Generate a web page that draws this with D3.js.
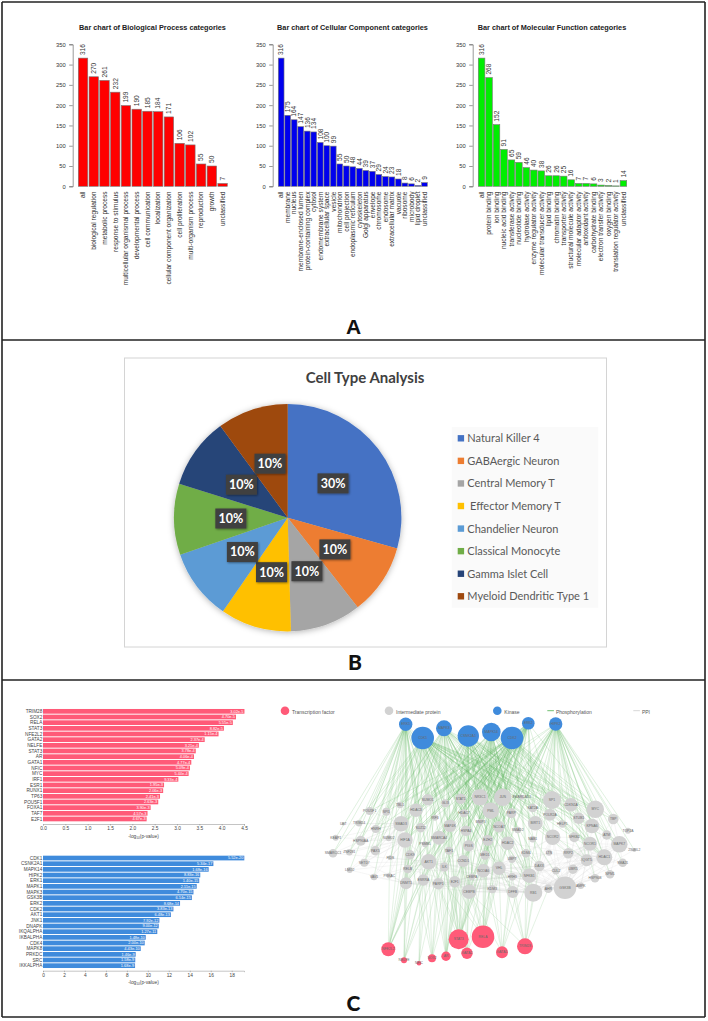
<!DOCTYPE html>
<html>
<head>
<meta charset="utf-8">
<script src="https://cdn.jsdelivr.net/npm/d3@7"></script>
<style>
	html, body { margin: 0; padding: 0; background: #fff; }
	svg { display: block; }
	text { font-family: "Liberation Sans", Arial, sans-serif; }
	.lato { font-family: Lato, sans-serif; }
	.node text { fill: #6a6a6a; font-size: 3.4px; text-anchor: middle; }
</style>
</head>
<body>
<script>
// panel A
var bpCats = ["all","biological regulation","metabolic process","response to stimulus","multicellular organismal process","developmental process","cell communication","localization","cellular component organization","cell proliferation","multi-organism process","reproduction","growth","unclassified"];
var bpVals = [316,270,261,232,199,190,185,184,171,106,102,55,50,7];
var ccCats = ["all","membrane","nucleus","membrane-enclosed lumen","protein-containing complex","cytosol","endomembrane system","extracellular space","vesicle","mitochondrion","cell projection","endoplasmic reticulum","cytoskeleton","Golgi apparatus","envelope","chromosome","endosome","extracellular matrix","vacuole","ribosome","microbody","lipid droplet","unclassified"];
var ccVals = [316,175,164,147,136,134,108,100,99,55,50,48,44,39,37,29,24,23,18,8,6,2,9];
var mfCats = ["all","protein binding","ion binding","nucleic acid binding","transferase activity","nucleotide binding","hydrolase activity","enzyme regulator activity","molecular transducer activity","lipid binding","chromatin binding","transporter activity","structural molecule activity","molecular adaptor activity","antioxidant activity","carbohydrate binding","electron transfer activity","oxygen binding","translation regulator activity","unclassified"];
var mfVals = [316,268,152,91,65,59,46,40,38,26,26,25,16,7,7,6,3,2,1,14];
var countTicks = [0,50,100,150,200,250,300,350];

// panel B
var pieCats = ["Natural Killer 4","GABAergic Neuron","Central Memory T"," Effector Memory T","Chandelier Neuron","Classical Monocyte","Gamma Islet Cell","Myeloid Dendritic Type 1"];
var pieVals = [29.4,10.1,10.1,10.1,10.1,10.1,10.1,10.1];
var pieLabels = ["30%","10%","10%","10%","10%","10%","10%","10%"];
var pieColors = ["#4472c4","#ed7d31","#a5a5a5","#ffc000","#5b9bd5","#70ad47","#264478","#9e480e"];

// panel C, bars
var tfCats = ["TRIM28","SOX2","RELA","STAT3","NFE2L2","GATA2","NELFE","STAT3 ","AR","GATA1","NFIC","MYC","IRF1","ESR1","RUNX1","TP63","POU5F1","FOXA1","TAF7","E2F1"];
var tfVals = [4.51,4.32,4.25,4.05,3.93,3.62,3.49,3.42,3.38,3.32,3.29,3.26,3.03,2.71,2.69,2.62,2.58,2.41,2.34,2.32];
var tfPvals = ["3.02e-5","4.70e-5","5.55e-5","8.82e-5","1.15e-4","2.37e-4","3.21e-4","3.78e-4","4.06e-4","4.77e-4","5.09e-4","5.44e-4","9.33e-4","1.95e-3","2.06e-3","2.41e-3","2.63e-3","3.90e-3","4.57e-3","4.67e-3"];
var tfTicks = [0,0.5,1,1.5,2,2.5,3,3.5,4,4.5];
var kinCats = ["CDK1","CSNK2A1","MAPK14","HIPK2","ERK1","MAPK1","MAPK3","GSK3B","ERK2","CDK2","AKT1","JNK1","DNAPK","IKQALPHA","IKBALPHA","CDK4","MAPK8","PRKDC","SRC","IKKALPHA"];
var kinVals = [19.2,16.25,15.8,15,14.9,14.66,14.35,14.2,13.07,12.44,12.2,11.1,11.04,10.9,9.8,9.7,9.32,8.84,8.8,8.78];
var kinPvals = ["5.52e-20","5.34e-17","1.68e-16","8.83e-16","1.40e-15","2.11e-15","4.70e-15","6.14e-15","8.68e-14","3.83e-13","6.48e-13","7.92e-12","9.00e-12","1.27e-11","1.48e-10","2.00e-10","4.43e-10","1.46e-9","1.58e-9","1.68e-9"];
var kinTicks = [0,2,4,6,8,10,12,14,16,18];

// panel C, network: name, x, y, size
var kinaseNodes = [["ERK1",405.7,724.3,6.7],["CDK1",422.7,738,11.3],["MAPK3",444,728.3,8],["CSNK2A1",468.3,736,10.7],["MAPK14",491.3,732,9.3],["CDK2",512,738,11.3],["ERK2",528.3,723.3,6.3],["HIPK2",555.7,724,6.7]];
var midNodes = [["POU5F1",369.7,811,4],["SPI1",386.3,811.7,4],["TBL1",400,805,3.3],["SUMO1",427.7,799.7,5.7],["GLI3",445.3,803.3,4],["STAT1",460.7,798.7,5.3],["NR3C1",480,797.3,8.3],["HDAC3",416,810.3,6.7],["UBT",343.3,824,1.5],["TRIM24",359,823.3,3.3],["SMAD3",401,823.7,7.7],["IRF3",435,817.7,3],["HDAC7",464,813.3,4],["MAP4K",450,825.7,6.3],["BNIP3",480.7,821.7,3],["HNRH",375.7,829,4],["SUZ12",420.7,827.7,4.7],["HSPA4",466,830.7,5.3],["KEAP1",335.7,837.7,3],["HSP90AA",360.7,840.7,5],["SUMO2",388.7,838.3,3],["HIF1A",405,840,7.7],["SMARCA4",439,837.7,7],["SMARCC1",333,853.3,4.3],["ZNF281",349.3,852.3,3.3],["PAX5",375.3,850.7,4.7],["PSMB5",425,844.3,3],["CDK9",410,854.7,4.7],["TAF1",449,850.7,4],["PIGS",468.7,845.7,5.7],["EZH2",487.7,840.3,5.5],["MED1",485,855.3,4.7],["SETD7",364.3,862.7,4],["FIDS",390.3,857.7,2.5],["AKT1",428.7,861.7,7.7],["CCND1",463.3,861,6],["LMO2",349.7,870,3],["VAV1",374,877,3.3],["RELB",407.7,869,4.3],["ILK",444.3,867,4.7],["NCOA6",483.3,870.7,6.7],["PRKAC",389.3,875.7,2.7],["DNMT1",406,883.3,6],["ESRRA",423.3,880,5.7],["PARP1",438.3,883.7,5.7],["E2F1",454.7,881.7,5.7],["CEBPA",471.7,876.7,3.3],["CEBPB",469,891.7,7.3],
	["JUN",502.7,797.3,8.7],["SMARCAD1",521.7,797.3,2.5],["SP1",552,800,9],["CDKN1A",571,804.7,6.7],["MYC",595.3,809.3,8.7],["TBP",613.3,819,5.3],["TOP2A",628,830.7,3],["PML",490.7,810.7,8.3],["PARP",511.3,813.3,5],["KAT2A",532.7,808,4.3],["POLR2A",550,814.7,6],["STUB1",578.7,818.3,5.7],["KPNA6",592,826,7.3],["BIRT1",535.3,823.3,7.3],["HELP1",562.3,824,3.7],["NCOA7",499,826.7,5.7],["SMAD2",517.7,830,3.3],["ATM",606.7,835,4.7],["MAPK7",619.3,844.3,8.3],["NCOR2",552.7,837.3,7.7],["NAB1",532.7,839.3,3.3],["NFKB2",574.3,837.3,5],["NCOR1",590,843.7,7],["HDAC2",507.7,843.3,6.7],["2308IL2",634.3,850,2],["HDAC1",604.3,857.3,8],["SMA21",622.7,862.7,4.3],["IQGT5",586.7,860.3,6],["RRP2",568.3,853.3,5.3],["LTN",549,852.7,3],["KDM4",526,853.3,4.3],["UBP7",512,859.3,3.7],["VHL",499,868.3,6.7],["DAXX",539.3,866,5.3],["CUL2",556,870.7,3.7],["UBR5",573,869.3,4.7],["NPM1",610,874.3,4.3],["HSP90B",595,878.3,4.3],["HRH3",512.3,876.7,3.7],["NFKB1",529.3,875.7,7.3],["GSK3B",565,887.7,11.3],["AMPK",580.7,885.7,3.3],["AHR",548.3,888.7,4.3],["RB1",533.3,892.7,9],["DFFB",512.7,892,6],["KDM3",492.3,889.3,4]];
var tfNodes = [["NFE2L2",388.3,949.3,7],["NELFE",404,960.3,3],["NFIC",419,963.3,2.3],["SOX2",432,958.3,4],["AR",446,956.3,4.7],["STAT3",458.7,939.3,10],["GATA2",467,953.3,5.7],["RELA",483,936.7,11.3],["GATA1",502,952.3,6],["TRIM28",525,946.3,8]];

// phosphorylation edges, kinase to its targets
var kinaseEdges = {
	ERK1: "POU5F1 TRIM24 SMAD3 HIF1A HDAC3 SUMO1 SMARCC1 HSP90AA PAX5 DNMT1 AKT1 SUZ12 MAP4K RELB GLI3 CDK9 ESRRA HDAC7 SUMO2 HNRH SPI1 KEAP1 SETD7 ZNF281 TBL1 VAV1 LMO2 PRKAC STAT1 NR3C1 IRF3 PSMB5",
	CDK1: "SPI1 TBL1 HDAC3 SMAD3 SUMO1 STAT1 NR3C1 JUN PML MYC SP1 KAT2A BIRT1 NCOR2 HDAC2 NCOA7 EZH2 MAP4K SMARCA4 HIF1A AKT1 TAF1 CEBPB E2F1 PARP1 DNMT1 VHL RB1 MAPK7 NCOR1 STUB1 KPNA6 CDKN1A POLR2A TBP POU5F1 HSP90AA PAX5 HNRH SETD7 ZNF281 FIDS RELB SUZ12 GLI3 HDAC7 BNIP3 PARP SMAD2 IQGT5 HDAC1 NFKB1 DFFB RRP2 MED1 NCOA6 SMARCC1 DAXX",
	MAPK3: "HDAC3 SMAD3 HIF1A STAT1 NR3C1 JUN PML SP1 MYC CEBPB ESRRA E2F1 BIRT1 NCOA6 HDAC2 EZH2 SMAD2 PIGS NFKB1 RB1 CDK9 TBL1 SUMO1 SPI1 POLR2A KAT2A NCOR2 ILK AKT1 TAF1 MAP4K HNRH PAX5 NCOR1 HDAC1 VHL DFFB",
	CSNK2A1: "STAT1 NR3C1 JUN PML SP1 MYC HDAC2 HDAC1 NCOR1 NCOR2 BIRT1 KAT2A PARP HIF1A SMAD3 TAF1 AKT1 CEBPB NFKB1 DAXX SMAD2 HDAC3 PIGS E2F1 VHL TBL1 SUMO1 GLI3 HDAC7 BNIP3 MAP4K HSPA4 EZH2 MED1 NCOA7 UBP7 RB1 GSK3B CEBPA ILK CCND1 STUB1 KPNA6 CDKN1A RELB DNMT1",
	MAPK14: "NR3C1 JUN PML SP1 MYC HDAC3 SMAD3 HIF1A STAT1 SUMO1 GLI3 PIGS EZH2 CEBPB NCOA6 KDM3 NFKB1 MED1 TAF1 MAPK7 SMARCA4 AKT1 KAT2A POLR2A PARP NCOA7 HDAC2 VHL NCOR2 HDAC7 BNIP3 HSPA4 ESRRA DNMT1 CCND1 HDAC1 RB1 SMAD2 HRH3",
	CDK2: "NR3C1 STAT1 SUMO1 HDAC3 SMAD3 HIF1A SMARCA4 AKT1 RELB E2F1 CEBPB JUN PML SP1 MYC NCOA7 BIRT1 RB1 NCOR2 POLR2A CDKN1A STUB1 KPNA6 MAPK7 TBP HDAC2 DNMT1 ESRRA PARP1 CCND1 SUZ12 MAP4K POU5F1 SPI1 TBL1 GLI3 HDAC7 BNIP3 HNRH HSPA4 PIGS EZH2 MED1 NCOA6 VHL NFKB1 HDAC1 NCOR1 IQGT5 DAXX ATM",
	ERK2: "STAT1 JUN NR3C1 PML SP1 MAP4K HDAC7 SMAD3 HIF1A PIGS NCOA7 EZH2 CCND1 AKT1 NCOA6 ILK DNMT1 MED1 VHL SUMO1 GLI3 HDAC3 SUZ12 BNIP3 HSPA4 TAF1 BIRT1 KAT2A MYC HDAC2 RELB NFKB1 CEBPB E2F1",
	HIPK2: "CDKN1A MYC TBP SP1 KPNA6 MAPK7 NCOR1 JUN PML POLR2A BIRT1 HDAC2 HIF1A SMAD3 AKT1 EZH2 NCOR2 HDAC1 IQGT5 ATM STUB1 KAT2A NFKB2 TOP2A CCND1 NCOA6 VHL MED1 DAXX NFKB1 RRP2 NPM1 SMA21 HSP90B HELP1 2308IL2 NCOA7 PARP CEBPA"
};
// PPI edges in the lower part of the network
var ppiEdges = {
	GSK3B: "NCOR1 NCOR2 HDAC1 MAPK7 RB1 NFKB1 DAXX UBR5 CUL2 AHR DFFB VHL NCOA6 HDAC2 IQGT5 RRP2 MYC NPM1 HSP90B AMPK SMA21 KDM4 CEBPB E2F1 TBP ATM KPNA6 LTN NAB1 UBP7 HRH3 MED1 CCND1 PARP1 AKT1 STUB1 NFKB2 2308IL2",
	RB1: "NFKB1 DFFB HDAC1 NCOR1 E2F1 HDAC2 VHL CEBPB MAPK7 DAXX NCOA6 CUL2 UBR5 IQGT5 MED1 CCND1 AKT1 DNMT1 PARP1 ESRRA NCOR2 RRP2",
	NFKB1: "RELB HDAC1 HDAC2 NCOR2 AKT1 CEBPB VHL DFFB ESRRA NCOA6 NCOR1 RRP2 CCND1 MED1 E2F1 DNMT1 PARP1 MAPK7",
	HDAC1: "NCOR1 NCOR2 MAPK7 SMA21 NPM1 UBR5 CUL2 DAXX IQGT5 TBP MYC HDAC2 KPNA6 ATM RRP2 LTN KDM4",
	MAPK7: "NCOR1 TOP2A 2308IL2 ATM SMA21 HSP90B IQGT5 TBP NPM1 RRP2",
	SMAD3: "SMARCC1 ZNF281 HSP90AA PAX5 SETD7 LMO2 VAV1 PRKAC DNMT1 KEAP1 UBT TRIM24 SUMO2 RELB FIDS HNRH POU5F1",
	HIF1A: "SMARCC1 HSP90AA KEAP1 ZNF281 SETD7 PAX5 VAV1 LMO2 FIDS DNMT1 AKT1 CDK9 PRKAC RELB ESRRA E2F1",
	AKT1: "DNMT1 ESRRA PARP1 E2F1 RELB FIDS PRKAC VAV1 SETD7 CEBPB CEBPA NCOA6 ILK SMARCC1 LMO2 CCND1 HDAC2",
	DNMT1: "RELB ESRRA PARP1 VAV1 PRKAC E2F1 CEBPB LMO2 SETD7 KDM3",
	E2F1: "CEBPB PARP1 NCOA6 CEBPA DFFB KDM3 RELB HRH3 VHL",
	NCOA6: "CEBPB DFFB KDM3 VHL HRH3 UBP7 CCND1 MED1 DAXX KDM4",
	VHL: "HRH3 DFFB KDM3 DAXX UBP7 KDM4 CUL2 LTN",
	NCOR1: "NFKB2 IQGT5 RRP2 UBR5 HSP90B NPM1 KPNA6 CUL2 DAXX AMPK",
	NCOR2: "RRP2 LTN NFKB2 UBR5 CUL2 DAXX KDM4 IQGT5 UBP7 HSP90B",
	IQGT5: "RRP2 UBR5 NPM1 HSP90B SMA21 AMPK CUL2",
	DFFB: "KDM3 HRH3 CEBPB AHR PARP1",
	AHR: "CUL2 DAXX UBR5 AMPK HSP90B NCOR1"
};
// edges into the transcription factors
var tfEdges = {
	NFE2L2: "HIF1A AKT1 SMAD3 RELB DNMT1 CDK9 PRKAC SUZ12 MAP4K SMARCA4 ESRRA HDAC3",
	NELFE: "HIF1A AKT1 SUZ12 RELB ESRRA DNMT1 MAP4K TAF1",
	NFIC: "AKT1 SUZ12 MAP4K ESRRA",
	SOX2: "AKT1 ESRRA PARP1 SMARCA4 TAF1 CDK9 E2F1",
	AR: "AKT1 TAF1 PIGS CCND1 ILK PARP1 E2F1 SMARCA4 HDAC7 MAP4K HSPA4",
	STAT3: "AKT1 PIGS EZH2 E2F1 CEBPB CCND1 MED1 NCOA6 PML JUN MAP4K ILK TAF1 BNIP3 HDAC7 SMARCA4 NCOA7",
	GATA2: "PARP1 E2F1 CEBPB HDAC2 NCOA6 ILK CCND1 PIGS",
	RELA: "E2F1 CEBPB NCOA6 PML JUN HDAC2 EZH2 VHL AKT1 KDM3 NCOA7 MED1 CCND1 HSPA4",
	GATA1: "CEBPB NCOA6 VHL KDM4 HRH3 NFKB1 UBP7 KDM3",
	TRIM28: "DFFB HRH3 NFKB1 RB1 VHL CEBPB DAXX KDM4 AHR"
};

var W = 708, H = 1021;
var svg = d3.select("body").append("svg").attr("width", W).attr("height", H);
var defs = svg.append("defs");
var f = defs.append("filter").attr("id", "pieShadow").attr("x", "-20%").attr("y", "-20%").attr("width", "140%").attr("height", "140%");
f.append("feDropShadow").attr("dx", 0).attr("dy", 1).attr("stdDeviation", 3).attr("flood-color", "#000").attr("flood-opacity", 0.3);
var f2 = defs.append("filter").attr("id", "boxShadow").attr("x", "-30%").attr("y", "-30%").attr("width", "160%").attr("height", "160%");
f2.append("feDropShadow").attr("dx", 0.8).attr("dy", 0.8).attr("stdDeviation", 0.8).attr("flood-color", "#000").attr("flood-opacity", 0.45);

// frames
var frameYs = [2, 340, 680, 1017];
svg.selectAll("line.hf").data(frameYs).enter().append("line").attr("class", "hf")
	.attr("x1", 2).attr("x2", 705).attr("y1", function(d){return d;}).attr("y2", function(d){return d;})
	.attr("stroke", "#222").attr("stroke-width", 1.6);
svg.selectAll("line.vf").data([2, 705]).enter().append("line").attr("class", "vf")
	.attr("x1", function(d){return d;}).attr("x2", function(d){return d;}).attr("y1", 2).attr("y2", 1017)
	.attr("stroke", "#222").attr("stroke-width", 1.6);

// ---- A ----
function rBars(title, cats, vals, color, x0, x1, titleX) {
	var x = d3.scaleBand().domain(cats).range([x0, x1]).paddingInner(0.12);
	var y = d3.scaleLinear().domain([0, 350]).range([186.3, 44.3]);
	var g = svg.append("g");
	g.append("text").attr("x", titleX).attr("y", 29.5).attr("text-anchor", "middle")
		.attr("font-size", 7.3).attr("font-weight", "bold").attr("fill", "#222").text(title);
	g.selectAll("rect").data(cats).enter().append("rect")
		.attr("x", function(d){return x(d);}).attr("width", x.bandwidth())
		.attr("y", function(d,i){return y(vals[i]);}).attr("height", function(d,i){return y(0)-y(vals[i]);})
		.attr("fill", color).attr("stroke", "#777").attr("stroke-width", 0.6);
	g.selectAll("text.val").data(cats).enter().append("text").attr("class", "val")
		.attr("transform", function(d,i){return "translate("+(x(d)+x.bandwidth()/2+2.3)+","+(y(vals[i])-3)+") rotate(-90)";})
		.attr("font-size", 6.6).attr("fill", "#333").text(function(d,i){return vals[i];});
	g.selectAll("text.cat").data(cats).enter().append("text").attr("class", "cat")
		.attr("transform", function(d){return "translate("+(x(d)+x.bandwidth()/2+2.3)+",191.5) rotate(-90)";})
		.attr("text-anchor", "end").attr("font-size", 6.6).attr("fill", "#333").text(function(d){return d;});
	var ax = g.append("g").attr("transform", "translate("+(x0-5.6)+",0)")
		.call(d3.axisLeft(y).tickValues(countTicks).tickSize(3.5).tickPadding(3.5));
	ax.selectAll("text").attr("font-size", 5.8).attr("fill", "#333").attr("font-family", "Liberation Sans");
	ax.selectAll("path,line").attr("stroke", "#555").attr("stroke-width", 0.6);
}
rBars("Bar chart of Biological Process categories", bpCats, bpVals, "#ff0000", 78.3, 227.3, 152.5);
rBars("Bar chart of Cellular Component categories", ccCats, ccVals, "#0000ee", 278.3, 427.3, 352.5);
rBars("Bar chart of Molecular Function categories", mfCats, mfVals, "#00ee00", 478.3, 626.7, 552);

svg.append("text").attr("x", 353.5).attr("y", 334).attr("text-anchor", "middle").attr("font-size", 21).attr("font-weight", "bold").attr("fill", "#111").text("A");

// ---- B ----
svg.append("rect").attr("x", 124.5).attr("y", 358).attr("width", 482).attr("height", 289).attr("fill", "#fff").attr("stroke", "#d4d4d4").attr("stroke-width", 1);
svg.append("text").attr("class", "lato").attr("x", 365).attr("y", 383).attr("text-anchor", "middle").attr("font-size", 15).attr("font-weight", "bold").attr("fill", "#404040").text("Cell Type Analysis");

var pieCx = 287.7, pieCy = 517.7, pieR = 113.7;
var pie = d3.pie().sort(null)(pieVals);
var arc = d3.arc().innerRadius(0).outerRadius(pieR);
var pieG = svg.append("g").attr("transform", "translate("+pieCx+","+pieCy+")");
pieG.append("g").attr("filter", "url(#pieShadow)").selectAll("path").data(pie).enter().append("path")
	.attr("d", arc).attr("fill", function(d,i){return pieColors[i];});
var lab = pieG.selectAll("g.lab").data(pie).enter().append("g").attr("class", "lab")
	.attr("transform", function(d){return "translate("+arc.centroid(d)+")";});
lab.append("rect").attr("x", -15.5).attr("y", -10).attr("width", 31).attr("height", 20).attr("fill", "#404040").attr("filter", "url(#boxShadow)");
lab.append("text").attr("class", "lato").attr("text-anchor", "middle").attr("dy", 4.4).attr("font-size", 12.5).attr("font-weight", "bold").attr("fill", "#fff")
	.text(function(d,i){return pieLabels[i];});

svg.append("rect").attr("x", 451.7).attr("y", 427).attr("width", 146.6).attr("height", 180.7).attr("fill", "#fafafa");
var legY = d3.scalePoint().domain(pieCats).range([438.3, 596.3]);
var leg = svg.selectAll("g.leg").data(pieCats).enter().append("g").attr("class", "leg")
	.attr("transform", function(d){return "translate(457.7,"+legY(d)+")";});
leg.append("rect").attr("y", -3.2).attr("width", 6.4).attr("height", 6.4).attr("fill", function(d,i){return pieColors[i];});
leg.append("text").attr("class", "lato").attr("x", 9.6).attr("y", 4).attr("font-size", 11).attr("fill", "#595959").style("white-space", "pre").text(function(d){return d;});

svg.append("text").attr("class", "lato").attr("x", 355).attr("y", 670).attr("text-anchor", "middle").attr("font-size", 21).attr("font-weight", "900").attr("fill", "#111").text("B");

// ---- C bars ----
function hBars(cats, vals, pvals, ticks, domainMax, color, top, bottom, axisY, labelY, fmt) {
	var x = d3.scaleLinear().domain([0, domainMax]).range([43, 244]);
	var y = d3.scaleBand().domain(cats).range([top, bottom]).paddingInner(0.17).paddingOuter(0.085);
	var g = svg.append("g");
	g.selectAll("rect").data(cats).enter().append("rect")
		.attr("x", x(0)).attr("y", function(d){return y(d);})
		.attr("width", function(d,i){return x(vals[i])-x(0);}).attr("height", y.bandwidth()).attr("fill", color);
	g.selectAll("text.p").data(cats).enter().append("text").attr("class", "p")
		.attr("x", function(d,i){return x(vals[i])-1;}).attr("y", function(d){return y(d)+y.bandwidth()/2+1.4;})
		.attr("text-anchor", "end").attr("font-size", 3.9).attr("fill", "#fff").text(function(d,i){return pvals[i];});
	g.selectAll("text.c").data(cats).enter().append("text").attr("class", "c")
		.attr("x", 42.3).attr("y", function(d){return y(d)+y.bandwidth()/2+1.6;})
		.attr("text-anchor", "end").attr("font-size", 4.7).attr("fill", "#444").text(function(d){return d;});
	var ax = g.append("g").attr("transform", "translate(0,"+axisY+")")
		.call(d3.axisBottom(x).tickValues(ticks).tickFormat(fmt).tickSize(1.5).tickPadding(1));
	ax.selectAll("text").attr("font-size", 4.8).attr("fill", "#444");
	ax.selectAll("path,line").attr("stroke", "#888").attr("stroke-width", 0.5);
	var xl = g.append("text").attr("x", 143.5).attr("y", labelY).attr("text-anchor", "middle").attr("font-size", 4.8).attr("fill", "#444");
	xl.append("tspan").text("-log");
	xl.append("tspan").attr("font-size", 3.2).attr("dy", 1).text("10");
	xl.append("tspan").attr("dy", -1).text("(p-value)");
}
hBars(tfCats, tfVals, tfPvals, tfTicks, 4.5, "#ff5a78", 708.5, 821.8, 824, 837.5, d3.format(".1f"));
hBars(kinCats, kinVals, kinPvals, kinTicks, 19.17, "#3f8bdc", 855.2, 968.5, 970.7, 984, d3.format("d"));

// ---- C network ----
var nodeX = d3.scaleIdentity(), nodeY = d3.scaleIdentity();
var sizeScale = d3.scaleLinear().domain([0, 12]).range([0, 12]);
var byName = {};
function addNodes(list, group) {
	list.forEach(function(n){ byName[group+":"+n[0]] = {name:n[0], x:n[1], y:n[2], s:n[3]}; });
}
addNodes(kinaseNodes, "k"); addNodes(midNodes, "m"); addNodes(tfNodes, "t");

function edgeList(table, fromGroup) {
	var out = [];
	Object.keys(table).forEach(function(a){
		table[a].split(" ").forEach(function(b){
			out.push([byName[fromGroup+":"+a], byName["m:"+b]]);
		});
	});
	return out;
}
function drawEdges(list, color, width, opacity) {
	svg.append("g").selectAll("line").data(list).enter().append("line")
		.attr("x1", function(d){return nodeX(d[0].x);}).attr("y1", function(d){return nodeY(d[0].y);})
		.attr("x2", function(d){return nodeX(d[1].x);}).attr("y2", function(d){return nodeY(d[1].y);})
		.attr("stroke", color).attr("stroke-width", width).attr("stroke-opacity", opacity);
}
drawEdges(edgeList(ppiEdges, "m"), "#d6d6d6", 0.5, 0.45);
drawEdges(edgeList(tfEdges, "t"), "#9bd19b", 0.5, 0.55);
drawEdges(edgeList(kinaseEdges, "k"), "#6bbb6b", 0.5, 0.42);

function drawNodes(list, color) {
	var g = svg.append("g").selectAll("g").data(list).enter().append("g").attr("class", "node")
		.attr("transform", function(d){return "translate("+nodeX(d[1])+","+nodeY(d[2])+")";});
	g.append("circle").attr("r", function(d){return sizeScale(d[3]);}).attr("fill", color);
	g.append("text").attr("dy", 1.1).text(function(d){return d[0];});
}
drawNodes(midNodes, "#d2d2d2");
drawNodes(kinaseNodes, "#3f8bdc");
drawNodes(tfNodes, "#ff5a78");

// network legend
var nl = svg.append("g").attr("font-size", 5).attr("fill", "#555");
var legendDots = [["Transcription factor",285,"#ff5a78"],["Intermediate protein",389,"#d2d2d2"],["Kinase",497.3,"#3f8bdc"]];
legendDots.forEach(function(d){
	nl.append("circle").attr("cx", d[1]).attr("cy", 710.7).attr("r", 4.3).attr("fill", d[2]);
	nl.append("text").attr("x", d[1]+7).attr("y", 713.6).text(d[0]);
});
var legendLines = [["Phosphorylation",547.3,"#4cae4c"],["PPI",633.3,"#ccc"]];
legendLines.forEach(function(d){
	nl.append("line").attr("x1", d[1]).attr("x2", d[1]+6.6).attr("y1", 710.7).attr("y2", 710.7).attr("stroke", d[2]).attr("stroke-width", 0.8);
	nl.append("text").attr("x", d[1]+8.6).attr("y", 713.6).text(d[0]);
});

svg.append("text").attr("class", "lato").attr("x", 353.5).attr("y", 1011).attr("text-anchor", "middle").attr("font-size", 21).attr("font-weight", "900").attr("fill", "#111").text("C");
</script>
</body>
</html>
